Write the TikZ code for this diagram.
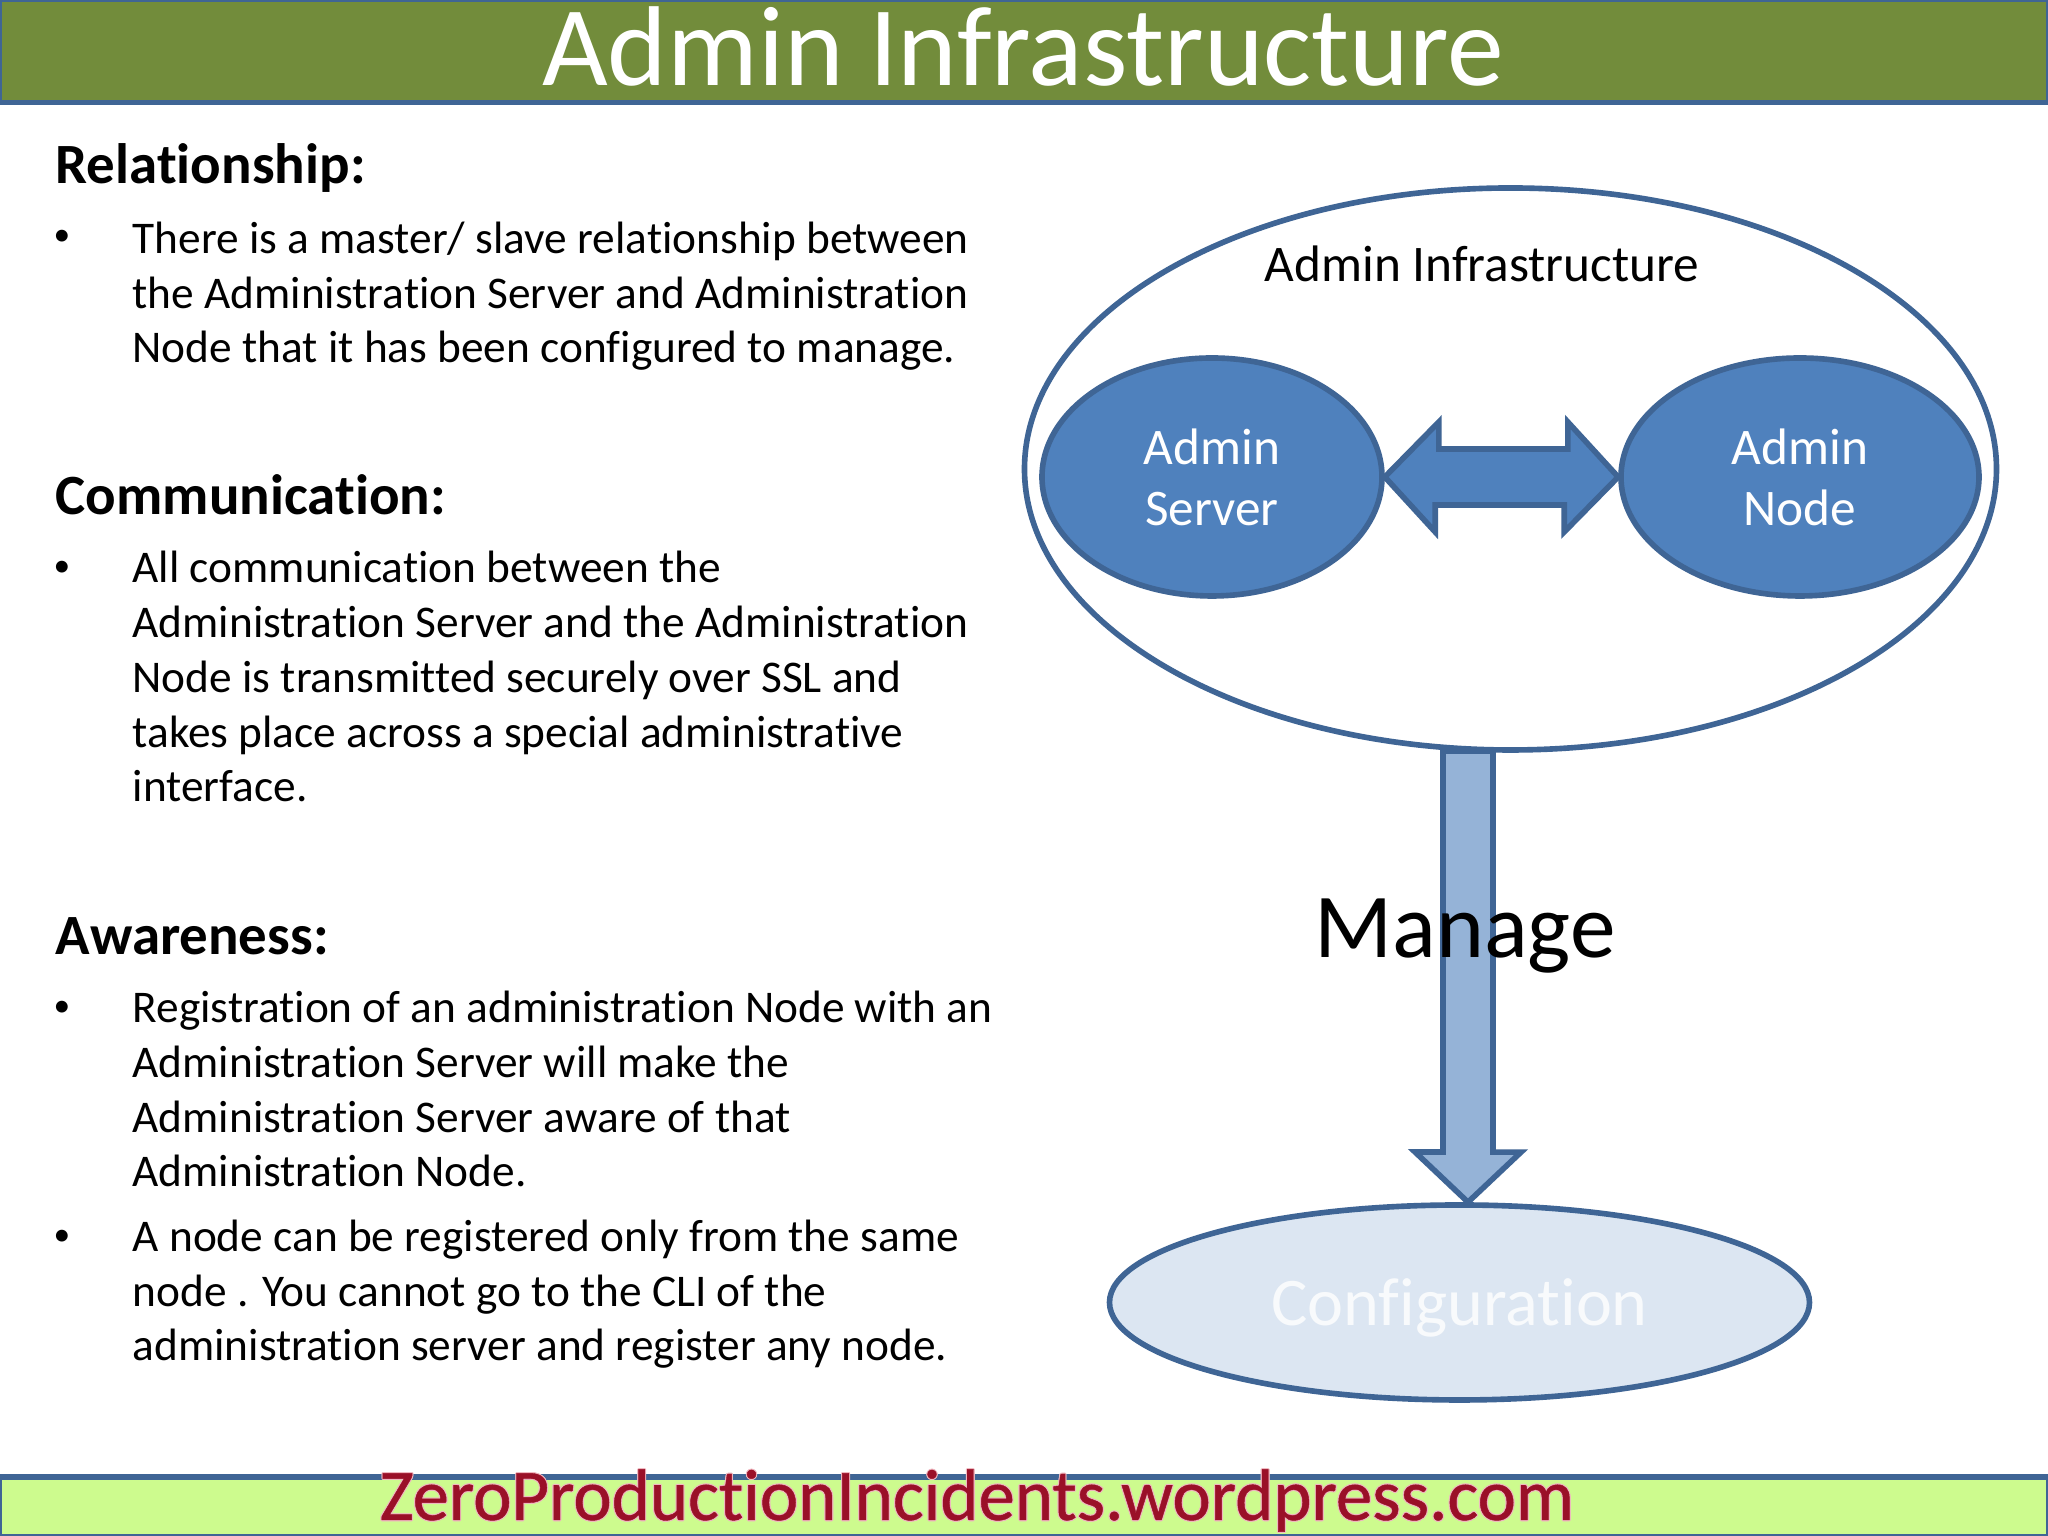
\documentclass[tikz,border=0pt]{standalone}
\usepackage{fontspec}
\setmainfont[Ligatures=NoCommon]{Carlito}
\usepackage[copies]{contour}
\usetikzlibrary{shapes.geometric}
\contourlength{0.3pt}
\contournumber{8}
\definecolor{linedark}{HTML}{3F6595}
\definecolor{blockblue}{HTML}{4F81BD}
\definecolor{lightblue}{HTML}{95B3D7}
\definecolor{paleblue}{HTML}{DCE6F2}
\definecolor{headgreen}{HTML}{728C3B}
\definecolor{footgreen}{HTML}{CDFB8E}
\definecolor{footred}{HTML}{9A1028}
\definecolor{footpink}{HTML}{F0B8C0}
\tikzset{
	band/.style={draw=linedark, line width=1.6pt, minimum width=20.5cm, inner sep=0pt},
	blob/.style={ellipse, draw=linedark, line width=1.6pt, inner sep=0pt},
	blockarrow/.style={draw=linedark, line width=1.6pt, miter limit=8},
	headline/.style={font=\fontsize{16.2}{19}\selectfont\bfseries, anchor=base west, inner sep=0pt},
	bodytext/.style={font=\fontsize{12.9}{15.6}\selectfont, align=left, anchor=base west, inner sep=0pt},
	dotmark/.style={font=\fontsize{9.5}{12}\selectfont, anchor=base, inner sep=0pt},
}
\begin{document}
\begin{tikzpicture}
	\useasboundingbox (0,0) rectangle (20.48,15.36);
	\fill[white] (0,0) rectangle (20.48,15.36);
	% top and bottom bands
	\node[band, fill=headgreen, minimum height=1.03cm] (topband) at (10.24,14.85) {};
	\node[band, fill=footgreen, minimum height=0.6cm] (footband) at (10.24,0.29) {};
	\node[font=\fontsize{32.3}{36}\selectfont, text=white, anchor=base, inner sep=0pt] (title) at (10.23,14.5) {Admin Infrastructure};
	\node[font=\fontsize{20.7}{24}\selectfont\addfontfeatures{FakeBold=0.6}, text=footred, anchor=base, inner sep=0pt] (foot) at (9.77,0.16) {\contour{footpink}{ZeroProductionIncidents.wordpress.com}};
	% left column
	\node[headline] (relhead) at (0.55,13.52) {Relationship:};
	\node[dotmark] (reldot) at (0.62,12.9) {\textbullet};
	\node[bodytext] (reltext) at (1.32,11.73) {There is a master/ slave relationship between\\the Administration Server and Administration\\Node that it has been configured to manage.};
	\node[headline] (comhead) at (0.55,10.21) {Communication:};
	\node[dotmark] (comdot) at (0.62,9.59) {\textbullet};
	\node[bodytext] (comtext) at (1.32,7.34) {All communication between the\\Administration Server and the Administration\\Node is transmitted securely over SSL and\\takes place across a special administrative\\interface.};
	\node[headline] (awahead) at (0.55,5.81) {Awareness:};
	\node[dotmark] (awadot) at (0.62,5.19) {\textbullet};
	\node[bodytext] (awatext) at (1.32,3.49) {Registration of an administration Node with an\\Administration Server will make the\\Administration Server aware of that\\Administration Node.};
	\node[dotmark] (regdot) at (0.62,2.9) {\textbullet};
	\node[bodytext] (regtext) at (1.32,1.75) {A node can be registered only from the same\\node . You cannot go to the CLI of the\\administration server and register any node.};
	% right column
	\coordinate (managetop) at (14.68,7.85);
	\node[blob, fill=paleblue, minimum width=7.0cm, minimum height=1.95cm] (config) at (14.595,2.335) {};
	\node[font=\fontsize{19.4}{22}\selectfont, text=white!80!paleblue, inner sep=0pt, yshift=-0.05cm] (configlabel) at (config.center) {Configuration};
	\draw[blockarrow, fill=lightblue] (managetop) ++(-0.25,0) -- ++(0,-4.01) -- ++(-0.28,0) -- (config.north -| managetop) -- ++(0.53,0.5) -- ++(-0.28,0) -- ++(0,4.01) -- cycle;
	\node[blob, fill=white, minimum width=9.72cm, minimum height=5.62cm] (infra) at (15.105,10.67) {};
	\node[font=\fontsize{14.6}{18}\selectfont, inner sep=0pt] (infralabel) at (14.82,12.72) {Admin Infrastructure};
	\node[blob, fill=blockblue, text=white, align=center, minimum width=3.4cm, minimum height=2.38cm, font=\fontsize{14.6}{17.4}\selectfont] (server) at (12.12,10.59) {Admin\\Server};
	\node[blob, fill=blockblue, text=white, align=center, minimum width=3.58cm, minimum height=2.38cm, font=\fontsize{14.6}{17.4}\selectfont] (adminnode) at (18.0,10.59) {Admin\\Node};
	\draw[blockarrow, fill=blockblue] (server.east) -- ++(0.54,0.55) -- ++(0,-0.27) -- ++(1.29,0) -- ++(0,0.27) -- (adminnode.west) -- ++(-0.54,-0.55) -- ++(0,0.27) -- ++(-1.29,0) -- ++(0,-0.27) -- cycle;
	\node[font=\fontsize{26}{30}\selectfont, anchor=base, inner sep=0pt] (manage) at (14.65,5.78) {Manage};
\end{tikzpicture}
\end{document}
